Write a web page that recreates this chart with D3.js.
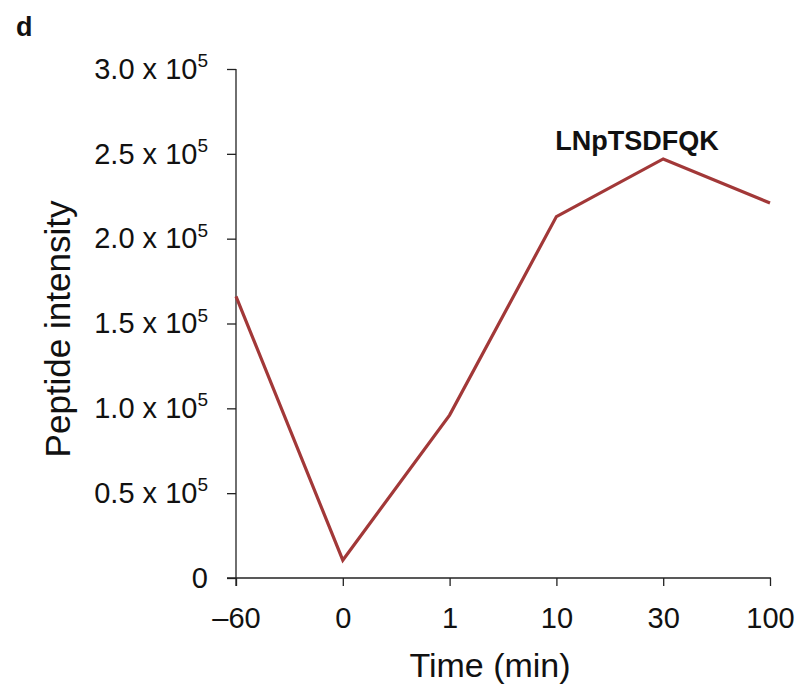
<!DOCTYPE html>
<html lang="en">
<head>
  <meta charset="utf-8" />
  <title>Peptide intensity</title>
  <script src="https://d3js.org/d3.v7.min.js"></script>
  <style>
    body { margin: 0; background: #fff; }
    text { font-family: "Liberation Sans", Arial, sans-serif; fill: #111; }
  </style>
</head>
<body>
  <div id="graph"></div>
  <script>
    // data
    const times = ["\u201360", "0", "1", "10", "30", "100"];
    const intensity = [166000, 10500, 96000, 213000, 247000, 221000];
    const yTicks = [0, 50000, 100000, 150000, 200000, 250000, 300000];
    const yTickMantissa = ["0", "0.5", "1.0", "1.5", "2.0", "2.5", "3.0"];
    const peptide = "LNpTSDFQK";

    const width = 799, height = 685;

    let svg = d3.select("#graph").append("svg")
      .attr("width", width)
      .attr("height", height);

    let x = d3.scalePoint().domain(times).range([236, 770]).padding(0);
    let y = d3.scaleLinear().domain([0, 300000]).range([578, 69]);

    // y axis
    let yAxis = svg.append("g")
      .attr("transform", "translate(236,0)")
      .call(d3.axisLeft(y).tickValues(yTicks).tickSize(9).tickFormat(""));
    yAxis.select(".domain").attr("d", "M0,69V586").attr("stroke", "#222").attr("stroke-width", 1.3);
    yAxis.selectAll(".tick line").attr("stroke", "#222").attr("stroke-width", 1.3);
    yAxis.selectAll(".tick text").each(function (d, i) {
      let t = d3.select(this)
        .attr("font-size", 29)
        .attr("dy", "0.32em")
        .attr("x", -28);
      if (i === 0) {
        t.text(yTickMantissa[i]);
      } else {
        t.append("tspan").text(yTickMantissa[i] + " x 10");
        t.append("tspan").attr("font-size", 19).attr("dy", "-0.62em").text("5");
      }
    });

    // x axis
    let xAxis = svg.append("g")
      .attr("transform", "translate(0,578)")
      .call(d3.axisBottom(x).tickSize(8).tickPadding(21));
    xAxis.select(".domain").attr("d", "M227,0H771").attr("stroke", "#222").attr("stroke-width", 1.3);
    xAxis.selectAll(".tick line").attr("stroke", "#222").attr("stroke-width", 1.3);
    xAxis.selectAll(".tick text").attr("font-size", 29).attr("font-family", "Liberation Sans, Arial, sans-serif");

    // line
    let line = d3.line()
      .x(function (d, i) { return x(times[i]); })
      .y(function (d) { return y(d); });

    svg.append("path")
      .datum(intensity)
      .attr("fill", "none")
      .attr("stroke", "#a23838")
      .attr("stroke-width", 3.2)
      .attr("stroke-linejoin", "miter")
      .attr("d", line);

    // labels
    svg.append("text")
      .attr("x", 637).attr("y", 150)
      .attr("text-anchor", "middle")
      .attr("font-size", 27).attr("font-weight", "bold")
      .text(peptide);

    svg.append("text")
      .attr("x", 16).attr("y", 36)
      .attr("font-size", 27).attr("font-weight", "bold")
      .text("d");

    svg.append("text")
      .attr("transform", "translate(70,329) rotate(-90)")
      .attr("text-anchor", "middle")
      .attr("font-size", 35)
      .text("Peptide intensity");

    svg.append("text")
      .attr("x", 490).attr("y", 677)
      .attr("text-anchor", "middle")
      .attr("font-size", 34)
      .text("Time (min)");
  </script>
</body>
</html>
